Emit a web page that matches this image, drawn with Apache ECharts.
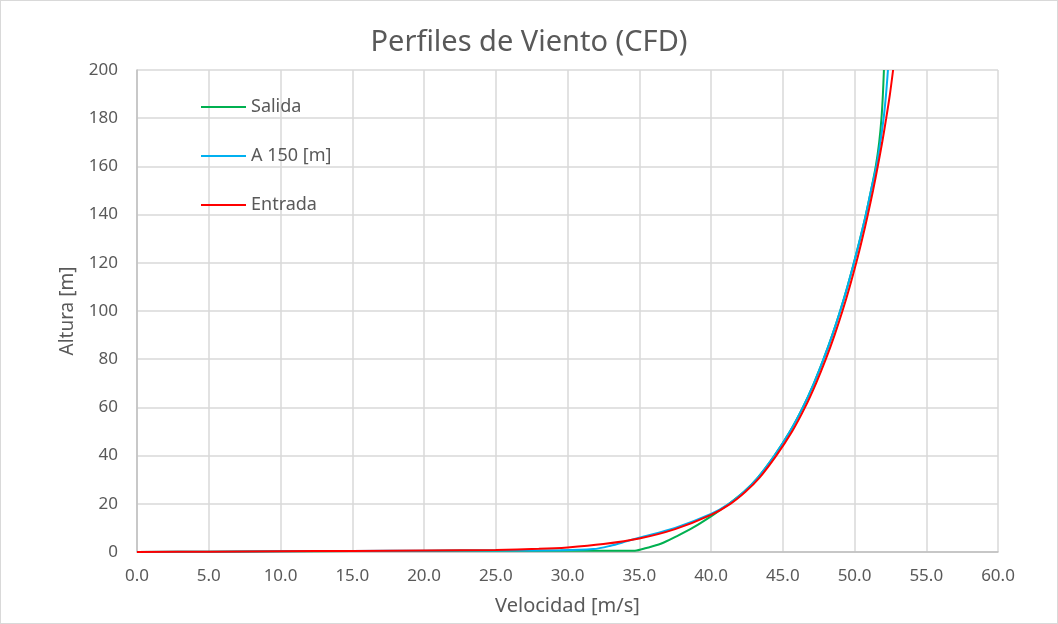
<!DOCTYPE html>
<html><head><meta charset="utf-8">
<script src="https://cdn.jsdelivr.net/npm/echarts@6/dist/echarts.min.js"></script>
<style>html,body{margin:0;padding:0;background:#fff}#c{width:1058px;height:624px;box-sizing:border-box;border:1px solid #d9d9d9}</style>
</head><body><div id="c"></div>
<script>
// Salida (green)
const salidaV = [0, 5, 10, 15, 20, 25, 30, 34.7, 35.5, 36.5, 37.6, 38.8, 40, 40.65, 41.25, 42.3, 43.28, 44.42, 45.5, 46.4, 47.17, 47.84, 48.45, 49.0, 49.5, 49.96, 50.39, 50.79, 51.15, 51.48, 51.72, 51.88, 51.98, 52.05];
const salidaZ = [0, 0.15, 0.3, 0.4, 0.45, 0.5, 0.5, 0.55, 1.66, 3.4, 6.5, 10.3, 14.8, 17.5, 20, 25, 31, 40, 50, 60, 70, 80, 90, 100, 110, 120, 130, 140, 150, 160, 170, 180, 190, 200];
// A 150 [m] (blue)
const a150V = [0, 5, 10, 15, 20, 25, 29.5, 31.8, 33, 34.1, 35, 37.5, 40, 41.25, 42.3, 43.28, 44.42, 45.5, 46.4, 47.17, 47.84, 48.45, 49.0, 49.5, 49.96, 50.39, 50.79, 51.15, 51.52, 51.8, 52.03, 52.2, 52.33];
const a150Z = [0, 0.15, 0.3, 0.45, 0.55, 0.65, 0.7, 1.2, 2.6, 4.4, 5.9, 10.0, 15.8, 20, 25, 31, 40, 50, 60, 70, 80, 90, 100, 110, 120, 130, 140, 150, 160, 170, 180, 190, 200];
// Entrada (red)
const entradaV = [0, 5, 10, 15, 20, 25, 28, 30, 32.5, 35, 37.5, 40, 41.35, 42.4, 43.4, 44.55, 45.65, 46.55, 47.32, 48.0, 48.61, 49.16, 49.66, 50.12, 50.54, 50.93, 51.29, 51.62, 51.93, 52.21, 52.47, 52.69];
const entradaZ = [0, 0.15, 0.3, 0.45, 0.6, 0.85, 1.3, 1.9, 3.3, 5.6, 9.5, 15.4, 20, 25, 31, 40, 50, 60, 70, 80, 90, 100, 110, 120, 130, 140, 150, 160, 170, 180, 190, 200];

const xTicksMin = 0, xTicksMax = 60, xStep = 5;
const yTicksMin = 0, yTicksMax = 200, yStep = 20;

const pairs = (v, z) => v.map((x, i) => [x, z[i]]);
const txt = '#595959';
const FONT = 'Noto Sans';

const chart = echarts.init(document.getElementById('c'), null, {renderer: 'canvas'});
chart.setOption({
  animation: false,
  textStyle: {fontFamily: FONT},
  title: {
    text: 'Perfiles de Viento (CFD)', left: 'center', top: 22,
    textStyle: {fontFamily: FONT, fontSize: 29, fontWeight: 'normal', color: txt}
  },
  legend: {
    orient: 'vertical', left: 200, top: 97, padding: 0, itemGap: 31, itemWidth: 45, itemHeight: 2, icon: 'rect',
    textStyle: {fontFamily: FONT, fontSize: 18, color: txt},
    data: ['Salida', 'A 150 [m]', 'Entrada']
  },
  grid: {left: 136, right: 59, top: 69, bottom: 71, containLabel: false},
  xAxis: {
    type: 'value', min: xTicksMin, max: xTicksMax, interval: xStep,
    name: 'Velocidad [m/s]', nameLocation: 'middle', nameGap: 44,
    nameTextStyle: {fontFamily: FONT, fontSize: 20, color: txt},
    axisLine: {lineStyle: {color: '#bfbfbf', width: 1.5}},
    axisTick: {show: false},
    axisLabel: {fontFamily: FONT, fontSize: 17, color: txt, margin: 16, formatter: v => v.toFixed(1)},
    splitLine: {lineStyle: {color: '#d9d9d9', width: 1.5}}
  },
  yAxis: {
    type: 'value', min: yTicksMin, max: yTicksMax, interval: yStep,
    name: 'Altura [m]', nameLocation: 'middle', nameGap: 60, nameRotate: 90,
    nameTextStyle: {fontFamily: FONT, fontSize: 19, color: txt},
    axisLine: {show: true, lineStyle: {color: '#bfbfbf', width: 1.5}},
    axisTick: {show: false},
    axisLabel: {fontFamily: FONT, fontSize: 17, color: txt, margin: 19},
    splitLine: {lineStyle: {color: '#d9d9d9', width: 1.5}}
  },
  series: [
    {name: 'Salida', type: 'line', symbol: 'none', smooth: 0.3, color: '#00B050', lineStyle: {width: 2}, data: pairs(salidaV, salidaZ)},
    {name: 'A 150 [m]', type: 'line', symbol: 'none', smooth: 0.3, color: '#00B0F0', lineStyle: {width: 2}, data: pairs(a150V, a150Z)},
    {name: 'Entrada', type: 'line', symbol: 'none', smooth: 0.3, color: '#FF0000', lineStyle: {width: 2}, data: pairs(entradaV, entradaZ)}
  ]
});
</script></body></html>
